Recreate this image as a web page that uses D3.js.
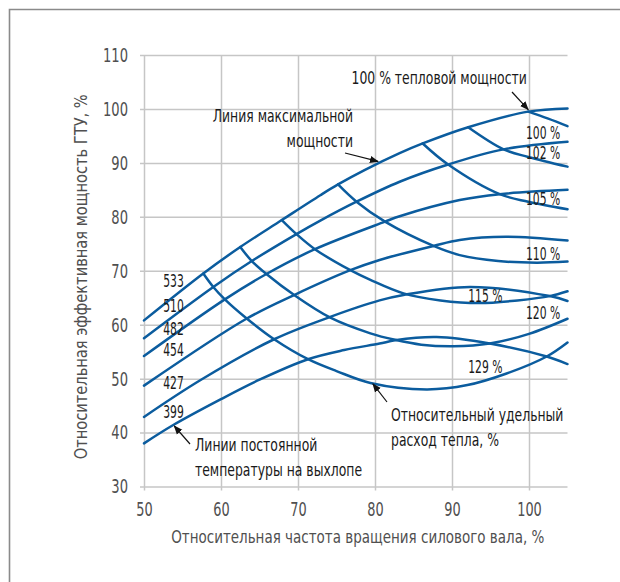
<!DOCTYPE html>
<html>
<head>
<meta charset="utf-8">
<script src="https://cdn.jsdelivr.net/npm/d3@7"></script>
<style>
  html, body { margin: 0; padding: 0; background: #fff; }
  svg { display: block; }
  text { font-family: "DejaVu Sans", sans-serif; }
</style>
</head>
<body>
<svg id="chart" width="620" height="582"></svg>
<script>
// Axis ticks
const xTicks = [50, 60, 70, 80, 90, 100];
const yTicks = [30, 40, 50, 60, 70, 80, 90, 100, 110];

// Lines of constant exhaust temperature: [relative shaft speed %, relative power %]
const tempNames = ["533", "510", "482", "454", "427", "399"];
const temp533 = [[50,60.8],[57.7,69.5],[62.5,74.4],[67.9,79.4],[72.9,84.0],[75.2,86.0],[78.7,88.7],[83.2,91.8],[86.2,93.6],[92.1,96.6],[99.9,99.5],[105,100.1]];
const temp510 = [[50,57.5],[59.0,67.0],[64.0,71.8],[69.8,76.8],[72.9,79.3],[77.6,82.8],[83.2,86.5],[89.5,89.7],[96.7,92.5],[105,93.9]];
const temp482 = [[50,54.2],[60.5,64.7],[65.9,69.4],[72.2,74.0],[81.3,79.1],[83.2,80.1],[91.0,83.1],[96.2,84.2],[105,85.0]];
const temp454 = [[50,48.7],[63.3,61.1],[69.5,65.5],[76.8,70.1],[80.6,72.0],[87.6,74.6],[91.0,75.7],[97,76.3],[105,75.6]];
const temp427 = [[50,42.9],[57.3,49.7],[66.9,57.3],[74.1,61.4],[80.6,64.5],[83.7,65.5],[92.3,67.0],[102.7,65.3],[105,64.4]];
const temp399 = [[50,38.0],[53.8,41.4],[60,46.2],[65,49.8],[71.3,53.6],[76,55.3],[80.6,56.5],[82.6,57.1],[88,57.7],[94.9,56.5],[102.3,54.1],[105,52.7]];
const tempSeries = [temp533, temp510, temp482, temp454, temp427, temp399];
// label anchors for the temperature lines, in axis units
const tempLabelAt = [[52.5,68.3],[52.5,63.5],[52.5,59.4],[52.5,55.5],[52.5,49.4],[52.5,44.0]];

// Lines of constant relative specific heat rate
const heatNames = ["100 %", "102 %", "105 %", "110 %", "115 %", "120 %", "129 %"];
const heat100 = [[99.9,99.5],[102.5,98.2],[105,96.8]];
const heat102 = [[92.1,96.6],[96.7,92.5],[99.9,91.1],[105,89.3]];
const heat105 = [[86.2,93.6],[89.5,89.7],[96.2,84.2],[99.9,82.8],[105,81.4]];
const heat110 = [[75.2,86.0],[77.6,82.8],[81.3,79.1],[87.6,74.6],[91.0,72.9],[96,71.8],[101,71.5],[105,71.7]];
const heat115 = [[67.9,79.4],[69.8,76.8],[72.2,74.0],[76.8,70.1],[79.4,68.3],[83.7,65.8],[88.5,64.5],[93.6,64.0],[98.5,64.5],[102.7,65.3],[105,66.2]];
const heat120 = [[62.5,74.4],[64.0,71.8],[65.9,69.4],[69.6,65.4],[74.2,61.3],[79.4,58.4],[82.6,57.2],[86,56.3],[90.2,56.0],[94.9,56.5],[100,58.3],[105,61.1]];
const heat129 = [[57.7,69.5],[59.0,67.0],[60.5,64.7],[63.3,61.2],[66.9,57.3],[71.3,53.6],[75,51.4],[79.4,49.2],[86.7,48.0],[92,48.8],[97,50.9],[102.3,54.1],[105,56.7]];
const heatSeries = [heat100, heat102, heat105, heat110, heat115, heat120, heat129];
const heatLabelAt = [[99.6,95.7],[99.6,91.9],[99.6,83.4],[99.6,73.3],[92.1,65.5],[99.6,62.2],[92.1,52.3]];

const svg = d3.select("#chart");
const W = 620, H = 582;
const blue = "#0b5c9e";
const grid = "#c6c6c6";
const axisText = "#505050";
const inkText = "#1a1a1a";

// narrow lettering: text drawn at the origin of a horizontally squeezed group
function narrowText(parent, px, py, str, opts) {
  const g = parent.append("g")
    .attr("transform", `translate(${px},${py}) scale(${opts.sx},1)` + (opts.rotate ? ` rotate(${opts.rotate})` : ""));
  return g.append("text")
    .attr("text-anchor", opts.anchor || "start")
    .attr("dominant-baseline", "central")
    .attr("fill", opts.fill || inkText)
    .style("font-size", opts.size + "px")
    .text(str);
}

// outer frame (top and left edges)
svg.append("path")
  .attr("d", `M9.5,${H} V9.5 H${W}`)
  .attr("fill", "none").attr("stroke", "#8a8a8a").attr("stroke-width", 1.6);

const x = d3.scaleLinear().domain([50, 105]).range([144, 567.5]);
const y = d3.scaleLinear().domain([30, 110]).range([486.5, 55]);

// vertical grid + x tick labels
const gx = svg.append("g")
  .attr("transform", `translate(0,${y(110)})`)
  .call(d3.axisBottom(x).tickValues(xTicks).tickSizeInner(y(30) + 4 - y(110)).tickSizeOuter(0));
// horizontal grid + y tick labels
const gy = svg.append("g")
  .attr("transform", `translate(${x(105)},0)`)
  .call(d3.axisLeft(y).tickValues(yTicks).tickSizeInner(x(105) - x(50) + 4).tickSizeOuter(0));
[gx, gy].forEach(g => {
  g.select(".domain").remove();
  g.selectAll(".tick line").attr("stroke", grid).attr("stroke-width", 1.5);
  g.selectAll(".tick text").remove();
});
gx.selectAll(".tick").each(function (d) {
  narrowText(d3.select(this), 0, y(30) - y(110) + 23, d, { size: 19, sx: 0.68, anchor: "middle", fill: axisText });
});
gy.selectAll(".tick").each(function (d) {
  narrowText(d3.select(this), -(x(105) - x(50)) - 16, 0, d, { size: 19, sx: 0.69, anchor: "end", fill: axisText });
});

// axis titles
narrowText(svg, (x(50) + x(105)) / 2 + 2, 537, "Относительная частота вращения силового вала, %",
  { size: 18, sx: 0.75, anchor: "middle", fill: axisText });
narrowText(svg, 80, (y(30) + y(110)) / 2 + 6, "Относительная эффективная мощность ГТУ, %",
  { size: 18, sx: 1, rotate: -90, anchor: "middle", fill: axisText })
  .attr("textLength", 365).attr("lengthAdjust", "spacingAndGlyphs");

const line = d3.line().x(d => x(d[0])).y(d => y(d[1])).curve(d3.curveCatmullRom.alpha(0.5));

const curves = svg.append("g").attr("fill", "none").attr("stroke", blue)
  .attr("stroke-width", 2.5).attr("stroke-linecap", "round");
curves.selectAll("path.temp").data(tempSeries).join("path").attr("class", "temp").attr("d", line);
curves.selectAll("path.heat").data(heatSeries).join("path").attr("class", "heat").attr("d", line);

// curve labels
const labels = svg.append("g");
tempNames.forEach((t, i) => narrowText(labels, x(tempLabelAt[i][0]), y(tempLabelAt[i][1]), t, { size: 18, sx: 0.6 }));
heatNames.forEach((t, i) => narrowText(labels, x(heatLabelAt[i][0]), y(heatLabelAt[i][1]), t, { size: 18, sx: 0.6 }));

// annotations with arrows
svg.append("defs").append("marker")
  .attr("id", "arrow").attr("viewBox", "0 0 10 10").attr("refX", 9).attr("refY", 5)
  .attr("markerWidth", 9).attr("markerHeight", 9).attr("orient", "auto-start-reverse")
  .attr("markerUnits", "userSpaceOnUse")
  .append("path").attr("d", "M0,1 L10,5 L0,9 Z").attr("fill", "#111");

const notes = [
  { lines: ["100 % тепловой мощности"], at: [351.5, 78], anchor: "start", from: [512, 92], to: [x(99.9), y(99.5) - 2] },
  { lines: ["Линия максимальной", "мощности"], at: [353, 116], anchor: "end", from: [345, 153], to: [x(80.4), y(89.9) - 2] },
  { lines: ["Линии постоянной", "температуры на выхлопе"], at: [195, 445], anchor: "start", from: [190, 444], to: [x(53.8) + 1, y(41.4) + 1] },
  { lines: ["Относительный удельный", "расход тепла, %"], at: [391, 415], anchor: "start", from: [387, 402], to: [x(79.6) + 1, y(49.2) + 1] }
];
const ng = svg.append("g");
notes.forEach(n => {
  n.lines.forEach((t, k) => narrowText(ng, n.at[0], n.at[1] + k * 25, t, { size: 18, sx: 0.69, anchor: n.anchor }));
  ng.append("line")
    .attr("x1", n.from[0]).attr("y1", n.from[1]).attr("x2", n.to[0]).attr("y2", n.to[1])
    .attr("stroke", "#111").attr("stroke-width", 1.2).attr("marker-end", "url(#arrow)");
});
</script>
</body>
</html>
